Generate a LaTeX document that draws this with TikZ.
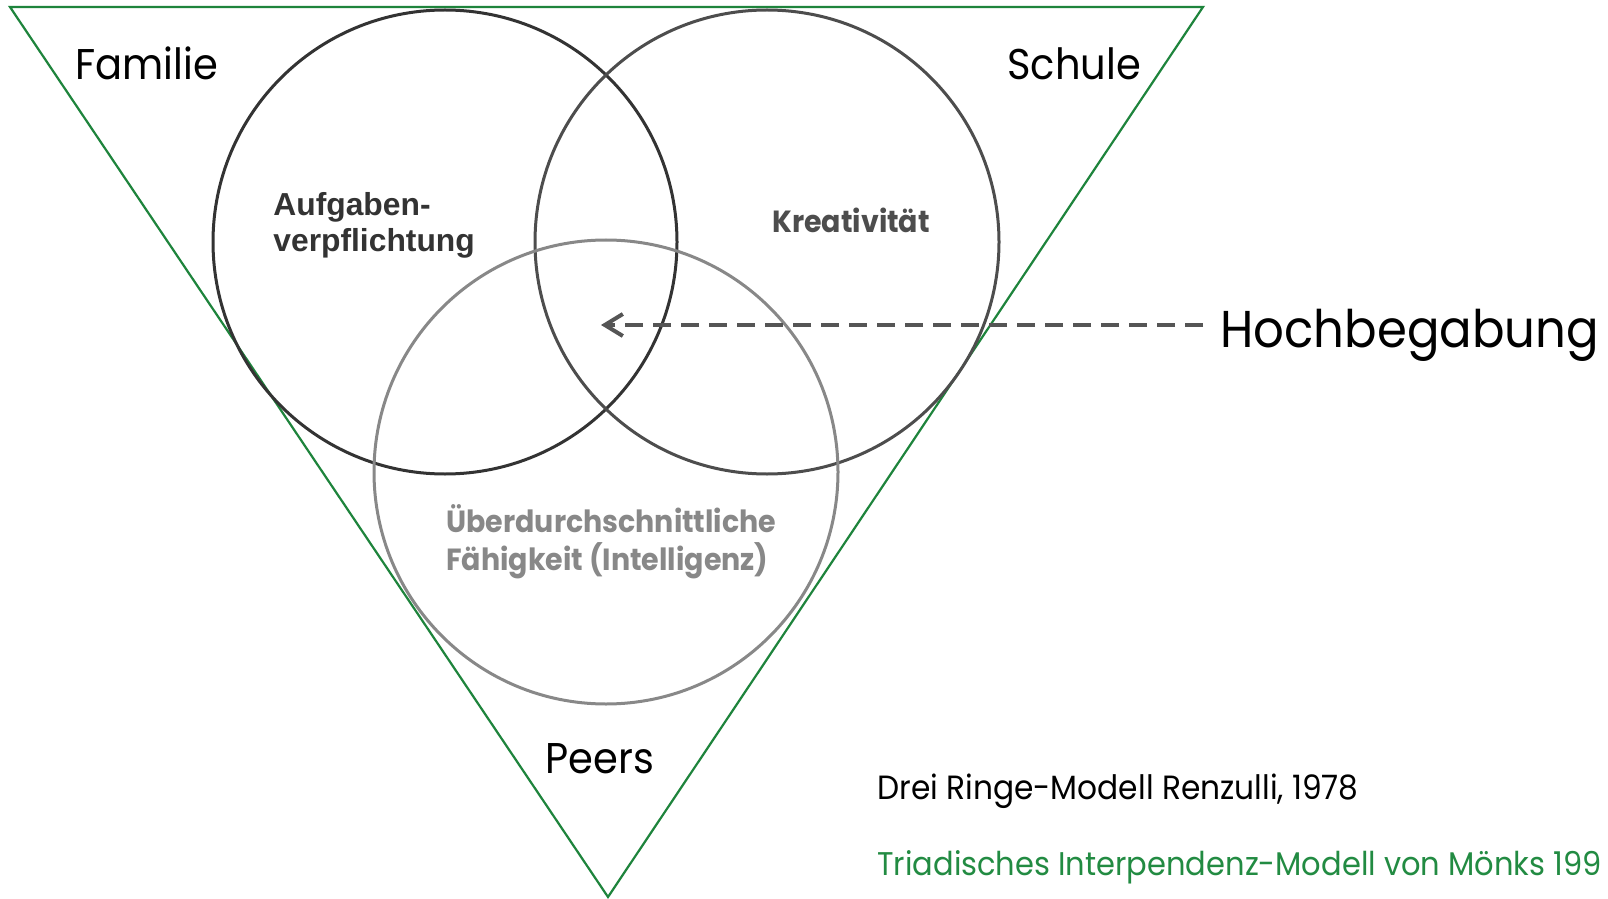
\documentclass[tikz,border=0pt]{standalone}
\usepackage{fontspec}
\setmainfont{Poppins}[FakeStretch=0.93]
\newfontfamily\arialf{Liberation Sans}
\usetikzlibrary{arrows.meta}
\definecolor{tgreen}{RGB}{30,132,60}
\definecolor{cgreen}{RGB}{34,139,66}
\definecolor{ringa}{RGB}{51,51,51}
\definecolor{ringb}{RGB}{77,77,77}
\definecolor{ringc}{RGB}{136,136,136}
\definecolor{arrowc}{RGB}{85,85,85}
\begin{document}
\begin{tikzpicture}[x=0.5pt,y=-0.5pt,
  ring/.style={circle,draw,line width=1.5pt,inner sep=0pt,minimum size=232pt},
  lbl/.style={anchor=base west,inner sep=0pt},
  ctx/.style={lbl,font=\fontsize{21.5pt}{25pt}\selectfont,text=black},
  ringtxt/.style={lbl,font=\bfseries\fontsize{15.3pt}{18pt}\selectfont}]
\useasboundingbox (0,0) rectangle (1608,899);
\fill[white] (0,0) rectangle (1608,899);
% triangle
\coordinate (tl) at (10,7);
\coordinate (tr) at (1203,7);
\coordinate (tb) at (608,897);
\draw[tgreen,line width=1.1pt,line join=miter] (tl) -- (tr) -- (tb) -- cycle;
% rings
\node[ring,draw=ringa] (r1) at (445,242) {};
\node[ring,draw=ringb] (r2) at (767,242) {};
\node[ring,draw=ringc] (r3) at (606,472) {};
% context labels
\node[ctx] (fam) at (75,80) {Familie};
\node[ctx] (sch) at (1007,80) {Schule};
\node[ctx] (peer) at (545,773) {Peers};
% ring labels
\node[lbl,font=\arialf\bfseries\fontsize{15.9pt}{18pt}\selectfont,text=ringa] (auf1) at (273,216) {Aufgaben-};
\node[lbl,font=\arialf\bfseries\fontsize{15.9pt}{18pt}\selectfont,text=ringa] (auf2) at (273,251) {verpflichtung};
\node[ringtxt,text=ringb] (krea) at (772,233) {Kreativität};
\node[ringtxt,text=ringc] (ueb1) at (446,532) {Überdurchschnittliche};
\node[ringtxt,text=ringc] (ueb2) at (446,570) {Fähigkeit (Intelligenz)};
% Hochbegabung
\node[lbl,font=\fontsize{25.9pt}{30pt}\selectfont] (hb) at (1220,347) {Hochbegabung};
\coordinate (hbin) at (1203,325);
\coordinate (tip) at (601,325);
\draw[arrowc,line width=2pt,dash pattern=on 9pt off 5pt,-{Straight Barb[length=9pt,width=11pt,line width=2pt]}] (hbin) -- (tip);
% captions
\node[lbl,font=\fontsize{16.8pt}{20pt}\selectfont] (cap1) at (877,799) {Drei Ringe-Modell Renzulli, 1978};
\node[lbl,font=\fontsize{16.4pt}{20pt}\selectfont,text=cgreen] (cap2) at (877,875) {Triadisches Interpendenz-Modell von Mönks 199};
\end{tikzpicture}
\end{document}
